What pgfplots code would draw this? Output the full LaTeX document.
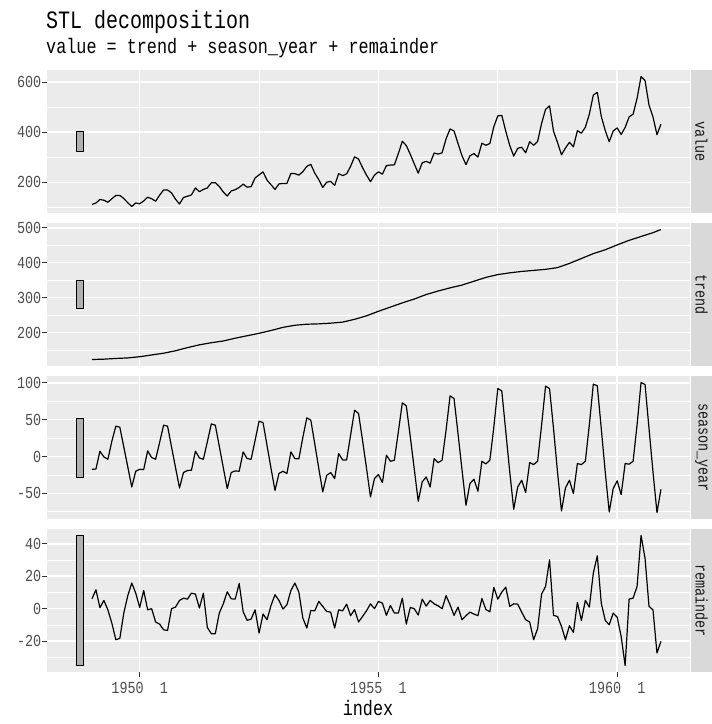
\documentclass[border=0pt]{standalone}
\usepackage{fontspec}
\usepackage{pgfplots}
\usepackage{pgfplotstable}
\pgfplotsset{compat=1.18}
\setmainfont[FakeStretch=0.8]{Liberation Mono}
\definecolor{panelbg}{HTML}{EBEBEB}
\definecolor{stripc}{HTML}{D9D9D9}
\definecolor{tickc}{HTML}{4D4D4D}
\definecolor{tickl}{HTML}{333333}
\definecolor{stript}{HTML}{1A1A1A}
\definecolor{barfill}{HTML}{B0B0B0}
\newcommand\ticksize{\fontsize{16.8pt}{17pt}\selectfont}

\pgfplotstableread{
m value trend season remainder
0 112 123 -17.3 6.1
1 118 123.3 -17 11.7
2 132 123.7 7.2 0.6
3 129 124 -0.5 5.1
4 121 124.7 -3.7 -0.7
5 135 125.3 20.8 -8.9
6 148 126 41.2 -19.1
7 148 126.5 39.8 -18.3
8 136 127 13 -2.7
9 119 127.5 -14 8.0
10 104 128.7 -41.3 15.8
11 118 129.8 -20 9.6
12 115 131 -17.3 0.8
13 126 132.7 -17.7 11.2
14 141 134.3 7.7 -0.7
15 135 136 -1.4 0
16 125 137.7 -3.7 -8.2
17 149 139.3 19 -9.5
18 170 141 42.5 -13
19 170 143.3 41.2 -13.4
20 158 145.7 13 0
21 133 148 -15 1
22 114 151 -42.6 5.1
23 140 154 -21.7 6.5
24 145 157 -19 5.9
25 150 159.7 -18.6 9.6
26 178 162.3 7.2 9
27 163 165 -1.9 0.4
28 172 167 -3.7 9.6
29 178 169 20 -11.6
30 199 171 44.3 -15.4
31 199 172.7 42.5 -15.4
32 184 174.3 14 -2.7
33 162 176 -15 3
34 146 178.7 -43.5 10.4
35 166 181.3 -21.7 6.1
36 171 184 -19.5 5.9
37 180 186.3 -20 15.5
38 193 188.7 6.3 -1.9
39 181 191 -2.8 -7.2
40 183 193.3 -3.7 -6.4
41 218 195.7 22 -0.7
42 230 198 48 -15
43 242 200.7 46 -3.3
44 209 203.3 15 -6.8
45 191 206 -16 2
46 172 209 -46 8.6
47 194 212 -23 5.1
48 196 215 -20 -0.2
49 196 217 -23 2.4
50 236 219 6.3 11.2
51 235 221 -2.8 15.8
52 229 222 -3.2 10.2
53 243 223 26 -5.8
54 264 224 52.5 -11.9
55 272 224.3 49.4 -1.1
56 237 224.7 17 -1.3
57 211 225 -16 4.5
58 180 225.7 -48 1.4
59 201 226.3 -25.4 -1.7
60 204 227 -21.8 -2.1
61 188 228 -29.9 -11.9
62 235 229 4 -0.7
63 227 230 -4.6 -1.3
64 234 232.7 -4.6 2.8
65 264 235.3 29 -4.3
66 302 238 62.9 -0.5
67 293 241.3 58.4 -8.2
68 259 244.7 22 -4.8
69 229 248 -16 -1.3
70 203 252.3 -54.8 3
71 229 256.7 -29.9 0
72 242 261 -24.5 4.5
73 233 265 -35.3 3.4
74 267 269 1.8 -4.1
75 269 273 -6.4 2
76 270 277 -5 -2.7
77 315 281 33.5 -2.7
78 364 285 72.9 6.5
79 347 288.7 68.8 -9.5
80 312 292.3 27 0.8
81 274 296 -17 0
82 237 300.3 -60.7 -3.9
83 278 304.7 -34.4 5.9
84 284 309 -27.7 1.6
85 277 312.3 -41.3 5.1
86 317 315.7 -2.8 3
87 313 319 -8.2 1.8
88 318 322 -5 0
89 374 325 36 8
90 413 328 82.3 2.4
91 405 330.7 78.7 -4.1
92 355 333.3 31 1
93 306 336 -18 -6.8
94 271 339.7 -66.1 -4.3
95 306 343.3 -36.6 -2.1
96 315 347 -30.8 -3.3
97 301 350.7 -47.1 -4.3
98 356 354.3 -6.4 6.3
99 348 358 -10 -0.5
100 355 360.7 -5 -1.9
101 422 363.3 40 13.1
102 465 366 92.3 5.9
103 467 367.7 89 10.2
104 404 369.3 34 13.3
105 347 371 -21 1.4
106 305 372.3 -71.6 3
107 336 373.7 -41.3 2.8
108 340 375 -32.2 -2.1
109 318 376 -48.9 -6.8
110 362 377 -8.2 -8.2
111 348 378 -10.9 -19.1
112 363 379 -6.4 -12.3
113 435 380 42.5 9
114 491 381 95.5 13.7
115 505 382.7 92.3 30.1
116 404 384.3 38 -4.1
117 359 386 -21 -4.8
118 310 390 -73.9 -10.9
119 337 394 -42.6 -19.1
120 360 398 -32.2 -10.5
121 342 402.7 -50.3 -14.6
122 406 407.3 -9.5 3.9
123 396 412 -10.9 -7.2
124 420 416.7 -6.4 5.1
125 472 421.3 43 1
126 548 426 98.2 21.9
127 559 429.7 96 32.6
128 463 433.3 38 3.4
129 407 437 -21 -7.2
130 362 441.7 -75.2 -9.9
131 405 446.3 -43.5 -2.7
132 417 451 -33 -5.2
133 391 455.3 -51.6 -17.1
134 419 459.7 -9.5 -35
135 461 464 -10.4 5.9
136 472 467.7 -6.4 6.5
137 535 471.3 43 13.7
138 622 475 100.5 45.1
139 606 478.7 97.8 31.1
140 508 482.3 38 1.4
141 461 486 -21 -0.7
142 390 490.5 -76 -27.3
143 432 495 -44.4 -20.1
}\stl

\pgfplotsset{
  panel/.style={
    scale only axis, width=643pt, height=143pt, anchor=north west,
    xmin=-11.3, xmax=150.3,
    axis background/.style={fill=panelbg},
    axis line style={draw=none},
    grid=both,
    major grid style={white, line width=1.5pt},
    minor grid style={white, line width=0.75pt},
    xtick={12,72,132}, minor xtick={42,102},
    xticklabels={},
    xmajorticks=false,
    ytick pos=left, tick align=outside, major tick length=4.5pt,
    minor tick length=0pt, minor tick style={draw=none},
    tick style={color=tickl, line width=1pt},
    yticklabel style={font=\ticksize, text=tickc, inner sep=0pt, xshift=-1pt},
    clip=false,
  },
  dline/.style={black, line width=1.2pt, line join=round, mark=none},
  sbar/.style={fill=barfill, draw=black, line width=0.6pt},
}

\begin{document}
\begin{tikzpicture}
\path[use as bounding box] (0pt,0pt) rectangle (712pt,-724pt);

% value
\begin{axis}[panel, at={(47pt,-70pt)}, ymin=78.1, ymax=647.9,
  ytick={200,400,600}, yticklabels={200,400,600}, minor ytick={100,300,500}]
\addplot[sbar] coordinates {(-3.95,323) (-2.1,323) (-2.1,403) (-3.95,403) (-3.95,323)};
\addplot[dline] table[x=m, y=value] {\stl};
\end{axis}

% trend
\begin{axis}[panel, at={(47pt,-223pt)}, ymin=104.4, ymax=513.6,
  ytick={200,300,400,500}, yticklabels={200,300,400,500}, minor ytick={150,250,350,450}]
\addplot[sbar] coordinates {(-3.95,269) (-2.1,269) (-2.1,349) (-3.95,349) (-3.95,269)};
\addplot[dline] table[x=m, y=trend] {\stl};
\end{axis}

% season_year
\begin{axis}[panel, at={(47pt,-376pt)}, ymin=-84.8, ymax=109.3,
  ytick={-50,0,50,100}, yticklabels={-50,0,50,100}, minor ytick={-75,-25,25,75}]
\addplot[sbar] coordinates {(-3.95,-27.8) (-2.1,-27.8) (-2.1,52.3) (-3.95,52.3) (-3.95,-27.8)};
\addplot[dline] table[x=m, y=season] {\stl};
\end{axis}

% remainder
\begin{axis}[panel, at={(47pt,-529pt)}, ymin=-39, ymax=49.1,
  ytick={-20,0,20,40}, yticklabels={-20,0,20,40}, minor ytick={-30,-10,10,30},
  xmajorticks=true, xtick pos=bottom,
  xticklabels={1950\ \ 1,1955\ \ 1,1960\ \ 1},
  xticklabel style={font=\ticksize, text=tickc, inner sep=0pt, yshift=-6pt}]
\addplot[sbar] coordinates {(-3.95,-35) (-2.1,-35) (-2.1,45.1) (-3.95,45.1) (-3.95,-35)};
\addplot[dline] table[x=m, y=remainder] {\stl};
\end{axis}

% strips
\foreach \top/\lab in {70/value, 223/trend, 376/season\_year, 529/remainder}{
  \fill[stripc] (691pt,-\top pt) rectangle (712pt,-\top pt-143pt);
  \node[rotate=-90, text=stript, font=\ticksize, inner sep=0pt] at (701.5pt,-\top pt-71.5pt) {\lab};
}

% titles
\node[anchor=base west, inner sep=0pt, font=\fontsize{25pt}{26pt}\selectfont] at (46pt,-28pt) {STL decomposition};
\node[anchor=base west, inner sep=0pt, font=\fontsize{21pt}{22pt}\selectfont] at (46pt,-53pt) {value = trend + season\_year + remainder};
\node[anchor=base, inner sep=0pt, font=\fontsize{21pt}{22pt}\selectfont] at (368pt,-715pt) {index};
\end{tikzpicture}
\end{document}
